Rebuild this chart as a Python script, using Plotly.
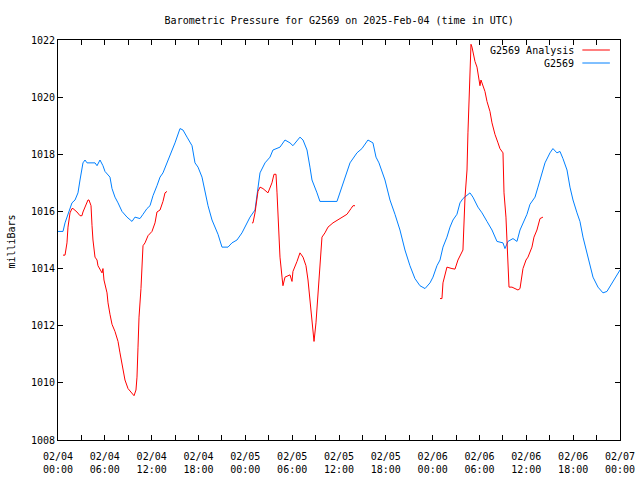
import pandas as pd
import plotly.graph_objects as go

# ---- data (hours after 2025-02-04 00:00 UTC, pressure in mb) ----
obs_hours = [0.0, 0.64, 0.9, 1.28, 1.79, 2.18, 2.56, 2.82, 3.2, 3.46, 3.72, 4.74, 5.0, 5.38, 5.76,
             6.02, 6.66, 6.92, 7.3, 7.69, 8.2, 8.84, 9.48, 9.86, 10.5, 10.89, 11.4, 11.79, 12.17,
             12.68, 13.07, 13.45, 13.96, 14.35, 14.99, 15.63, 16.01, 16.53, 17.17, 17.55, 17.94,
             18.45, 18.83, 19.22, 19.73, 20.11, 20.5, 21.01, 21.78, 22.29, 22.93, 23.57, 24.21,
             24.6, 25.24, 25.88, 26.52, 27.16, 27.54, 28.44, 29.08, 29.72, 30.1, 31.0, 31.39,
             31.9, 32.28, 32.54, 33.18, 33.56, 35.74, 36.13, 36.77, 37.41, 38.3, 38.94, 39.71,
             40.35, 40.74, 41.12, 41.89, 42.53, 43.17, 43.81, 44.45, 45.09, 45.73, 46.37, 47.02,
             47.66, 48.04, 48.55, 48.94, 49.32, 49.83, 50.22, 50.6, 51.11, 51.5, 51.88, 52.78,
             53.16, 53.8, 54.32, 54.96, 55.6, 56.24, 57.01, 57.26, 57.65, 58.29, 58.8, 59.19,
             59.57, 60.08, 60.47, 61.11, 61.49, 62.0, 62.39, 63.03, 63.41, 63.92, 64.31, 64.69,
             65.21, 65.59, 65.98, 66.49, 66.87, 67.26, 67.77, 68.16, 68.54, 69.18, 69.82, 70.33,
             70.97, 71.36, 71.74, 72.0]
obs_mb = [1015.3, 1015.3, 1015.6, 1015.9, 1016.3, 1016.4, 1016.65, 1017.1, 1017.7, 1017.8, 1017.7,
          1017.7, 1017.6, 1017.8, 1017.6, 1017.4, 1017.2, 1016.8, 1016.5, 1016.3, 1016.0, 1015.8,
          1015.65, 1015.8, 1015.75, 1015.9, 1016.1, 1016.2, 1016.55, 1016.9, 1017.2, 1017.35,
          1017.7, 1017.95, 1018.4, 1018.9, 1018.85, 1018.6, 1018.3, 1017.7, 1017.55, 1017.2,
          1016.65, 1016.2, 1015.7, 1015.45, 1015.2, 1014.75, 1014.75, 1014.9, 1015.0, 1015.25,
          1015.6, 1015.8, 1016.05, 1017.35, 1017.7, 1017.9, 1018.15, 1018.25, 1018.5, 1018.4,
          1018.3, 1018.6, 1018.5, 1018.15, 1017.55, 1017.1, 1016.65, 1016.35, 1016.35, 1016.65,
          1017.2, 1017.7, 1018.05, 1018.2, 1018.5, 1018.4, 1017.9, 1017.7, 1017.1, 1016.4,
          1015.9, 1015.35, 1014.65, 1014.1, 1013.65, 1013.4, 1013.3, 1013.5, 1013.7, 1014.1,
          1014.3, 1014.75, 1015.1, 1015.45, 1015.7, 1015.9, 1016.3, 1016.45, 1016.65, 1016.5,
          1016.15, 1015.95, 1015.65, 1015.35, 1014.95, 1014.9, 1014.7, 1014.95, 1015.05, 1014.95,
          1015.35, 1015.6, 1015.9, 1016.25, 1016.5, 1016.85, 1017.35, 1017.7, 1018.05, 1018.2,
          1018.05, 1018.1, 1017.85, 1017.45, 1016.85, 1016.4, 1015.95, 1015.65, 1015.1, 1014.55,
          1014.2, 1013.7, 1013.35, 1013.15, 1013.2, 1013.5, 1013.65, 1013.85, 1013.95]

ana1_hours = [0.64, 0.9, 1.15, 1.28, 1.54, 1.79, 1.92, 2.43, 2.82, 3.07, 3.2, 3.59, 3.84, 3.97, 4.23,
              4.36, 4.48, 4.74, 5.0, 5.12, 5.64, 5.76, 5.89, 6.28, 6.41, 6.66, 6.92, 7.3, 7.69,
              7.94, 8.2, 8.33, 8.58, 8.97, 9.48, 9.74, 9.99, 10.12, 10.25, 10.38, 10.63, 10.76,
              10.89, 11.15, 11.53, 12.04, 12.43, 12.68, 13.07, 13.45, 13.71, 13.96]
ana1_mb = [1014.47, 1014.47, 1014.9, 1015.45, 1015.95, 1016.1, 1016.1, 1015.98, 1015.85, 1015.85,
           1015.98, 1016.2, 1016.4, 1016.4, 1016.2, 1015.5, 1015.0, 1014.4, 1014.3, 1014.1,
           1013.85, 1014.0, 1013.6, 1013.15, 1012.8, 1012.4, 1012.05, 1011.8, 1011.45, 1011.05,
           1010.7, 1010.4, 1010.1, 1009.8, 1009.65, 1009.55, 1009.75, 1010.2, 1011.25, 1012.3,
           1013.3, 1014.3, 1014.8, 1014.9, 1015.15, 1015.3, 1015.6, 1015.98, 1016.05, 1016.35,
           1016.65, 1016.7]

ana2_hours = [24.85, 24.98, 25.24, 25.49, 25.62, 25.88, 26.26, 26.9, 27.41, 27.67, 27.93, 28.06,
              28.18, 28.44, 28.7, 28.82, 29.08, 29.72, 29.98, 30.1, 30.62, 31.0, 31.39, 31.77,
              32.03, 32.28, 32.54, 32.8, 33.05, 33.31, 33.56, 33.82, 34.2, 34.59, 35.23, 35.87,
              36.51, 37.02, 37.54, 37.79, 38.05]
ana2_mb = [1015.6, 1015.6, 1015.95, 1016.4, 1016.7, 1016.85, 1016.8, 1016.65, 1017.0, 1017.3,
           1017.3, 1016.65, 1015.7, 1014.4, 1013.7, 1013.4, 1013.7, 1013.78, 1013.55, 1013.9,
           1014.25, 1014.55, 1014.4, 1014.1, 1013.6, 1012.9, 1012.2, 1011.45, 1012.1, 1013.25,
           1014.3, 1015.1, 1015.25, 1015.45, 1015.6, 1015.7, 1015.8, 1015.9, 1016.1, 1016.2,
           1016.2]

ana3_hours = [48.94, 49.19, 49.32, 49.58, 49.83, 50.47, 50.86, 51.24, 51.76, 51.88, 52.14, 52.4,
              52.52, 52.65, 52.78, 52.91, 53.04, 53.16, 53.42, 53.68, 53.8, 54.06, 54.19, 54.45,
              54.7, 54.96, 55.34, 55.6, 55.98, 56.37, 56.62, 57.01, 57.14, 57.39, 57.52, 57.65,
              57.78, 58.16, 58.55, 58.93, 59.19, 59.44, 59.57, 59.96, 60.21, 60.72, 60.98, 61.36,
              61.75, 62.13]
ana3_mb = [1012.95, 1012.95, 1013.5, 1013.78, 1014.05, 1014.0, 1013.98, 1014.3, 1014.6, 1014.65,
           1016.47, 1017.45, 1018.75, 1019.9, 1021.4, 1021.85, 1021.75, 1021.55, 1021.25, 1021.05,
           1020.85, 1020.4, 1020.6, 1020.35, 1020.2, 1019.85, 1019.5, 1019.1, 1018.7, 1018.4,
           1018.2, 1018.05, 1016.65, 1015.8, 1014.9, 1014.2, 1013.35, 1013.35, 1013.3, 1013.25,
           1013.3, 1013.7, 1014.0, 1014.3, 1014.4, 1014.75, 1015.1, 1015.35, 1015.75, 1015.8]

start_time = "2025-02-04 00:00"
end_time = "2025-02-07 00:00"
y_ticks = [1008, 1010, 1012, 1014, 1016, 1018, 1020, 1022]
series_names = ["G2569 Analysis", "G2569"]
title_text = "Barometric Pressure for G2569 on 2025-Feb-04 (time in UTC)"
ylabel_text = "milliBars"

RED = "#ff0000"
BLUE = "#0080ff"
FONT = "DejaVu Sans Mono"

base = pd.Timestamp(start_time)


def to_times(hours):
    return [base + pd.Timedelta(hours=h) for h in hours]


ana_x, ana_y = [], []
for hs, vs in [(ana1_hours, ana1_mb), (ana2_hours, ana2_mb), (ana3_hours, ana3_mb)]:
    ana_x += to_times(hs) + [None]
    ana_y += list(vs) + [None]

fig = go.Figure()
fig.add_trace(go.Scatter(x=to_times(obs_hours), y=obs_mb, mode="lines", name=series_names[1],
                         line=dict(color=BLUE, width=1), showlegend=False))
fig.add_trace(go.Scatter(x=ana_x, y=ana_y, mode="lines", name=series_names[0], connectgaps=False,
                         line=dict(color=RED, width=1), showlegend=False))

# gnuplot-style legend: text right-aligned, line sample to its right
legend_rows = [(series_names[0], RED, 0.975), (series_names[1], BLUE, 0.9425)]
for name, col, yy in legend_rows:
    fig.add_annotation(x=0.922, y=yy, xref="paper", yref="paper", text=name, showarrow=False,
                       xanchor="right", yanchor="middle", font=dict(family=FONT, size=10, color="black"))
    fig.add_shape(type="line", xref="paper", yref="paper", x0=0.933, x1=0.982, y0=yy, y1=yy,
                  line=dict(color=col, width=1))

fig.add_annotation(x=-0.083, y=0.497, xref="paper", yref="paper", text=ylabel_text, showarrow=False,
                   textangle=-90, xanchor="center", yanchor="middle",
                   font=dict(family=FONT, size=10, color="black"))

fig.update_layout(
    width=640, height=480,
    margin=dict(l=58, r=20, t=40, b=40, autoexpand=False),
    paper_bgcolor="white", plot_bgcolor="white",
    font=dict(family=FONT, size=10, color="black"),
    title=dict(text=title_text, x=0.53, xanchor="center", y=1 - 20 / 480, yanchor="middle",
               font=dict(family=FONT, size=10, color="black")),
    hovermode=False,
)
fig.update_xaxes(
    type="date", range=[start_time, end_time], automargin=False,
    tickmode="linear", tick0=start_time, dtick=6 * 3600 * 1000,
    tickformat="%m/%d<br>%H:%M", ticklabelstandoff=7,
    ticks="inside", ticklen=5, tickcolor="black", tickwidth=1,
    minor=dict(dtick=3 * 3600 * 1000, ticks="inside", ticklen=5, tickcolor="black", showgrid=False),
    showline=True, linecolor="black", linewidth=1, mirror="ticks",
    showgrid=False, zeroline=False,
)
fig.update_yaxes(
    range=[1008, 1022], tickmode="array", tickvals=y_ticks, automargin=False,
    ticks="inside", ticklen=5, tickcolor="black", tickwidth=1,
    showline=True, linecolor="black", linewidth=1, mirror="ticks",
    showgrid=False, zeroline=False,
)

fig.write_html("out.html", config={"displayModeBar": False},
               post_script="document.body.style.margin='0px';")
